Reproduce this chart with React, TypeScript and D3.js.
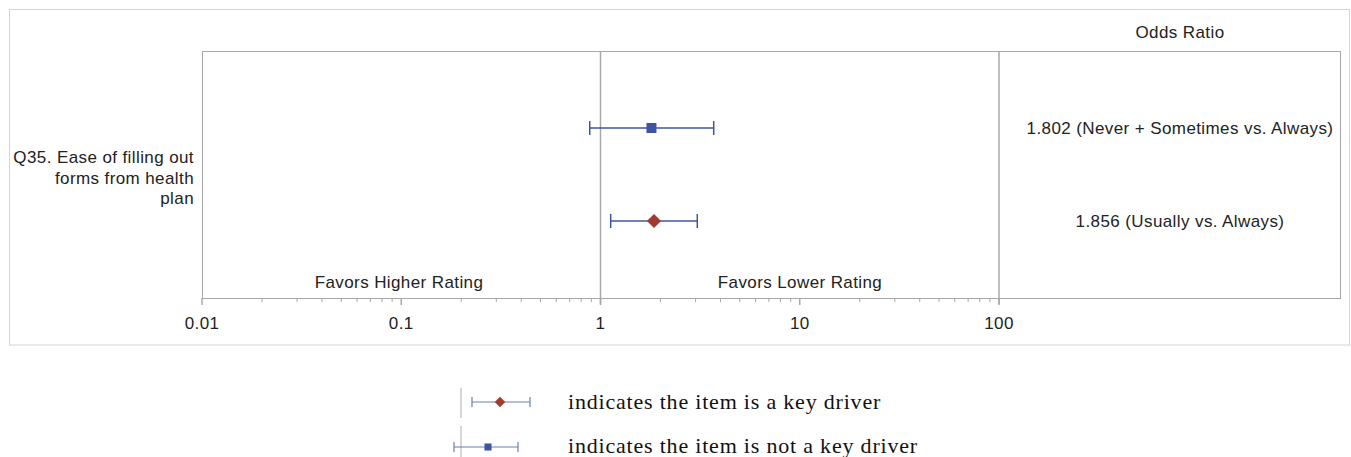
import React from "react";
import * as d3 from "d3";

const rows = ["1.802 (Never + Sometimes vs. Always)", "1.856 (Usually vs. Always)"];
const estimates = [1.802, 1.856];
const lowers = [0.883, 1.125];
const uppers = [3.70, 3.06];
const keyDriver = [false, true];
const tickValues = [0.01, 0.1, 1, 10, 100];
const tickLabels = ["0.01", "0.1", "1", "10", "100"];
const itemLabel = ["Q35. Ease of filling out", "forms from health", "plan"];
const favorLabels = ["Favors Higher Rating", "Favors Lower Rating"];
const refLines = [1, 100];

const BLUE = "#3F54A0";
const RED = "#A33A2E";
const GRID = "#A8A8A8";
const FONT = "'Liberation Sans', Arial, sans-serif";
const SERIF = "'Liberation Serif', 'Times New Roman', serif";
const FS = 17;
const LS = 0.4;

export default function App() {
  const W = 1351, H = 457;
  const frame = { left: 202, right: 1340, top: 51, bottom: 298 };
  const x = d3.scaleLog().domain([0.01, 100]).range([202, 999]);
  const y = d3.scalePoint<number>().domain([0, 1]).range([128, 221]);

  const minor: number[] = [];
  for (let d = 0.01; d < 100; d *= 10) {
    for (let k = 2; k <= 9; k++) minor.push(d * k);
  }

  const diamond = d3.symbol().type(d3.symbolSquare).size(100)();
  const square = d3.symbol().type(d3.symbolSquare).size(100)();
  const capH = 7;
  const colTextX = 1180;

  const textProps = { fontFamily: FONT, fontSize: FS, fill: "#222", letterSpacing: LS };

  return (
    <svg width={W} height={H} style={{ position: "absolute", left: 0, top: 0, background: "#fff" }}>
      <rect x={9.5} y={9.5} width={1340} height={335.5} fill="none" stroke="#D4D4D4" strokeWidth={1} />
      <rect x={frame.left + 0.5} y={frame.top + 0.5} width={frame.right - frame.left} height={frame.bottom - frame.top} fill="none" stroke={GRID} strokeWidth={1} />
      {refLines.map((v, i) => (
        <line key={i} x1={x(v)} x2={x(v)} y1={frame.top} y2={frame.bottom + 6} stroke={GRID} strokeWidth={1.5} />
      ))}
      {tickValues.map((v, i) => (
        <g key={i}>
          <line x1={x(v)} x2={x(v)} y1={frame.bottom} y2={frame.bottom + 7} stroke={GRID} strokeWidth={1.5} />
          <text x={x(v)} y={329} textAnchor="middle" {...textProps}>{tickLabels[i]}</text>
        </g>
      ))}
      {minor.map((v, i) => (
        <line key={"m" + i} x1={x(v)} x2={x(v)} y1={frame.bottom} y2={frame.bottom + 4} stroke={GRID} strokeWidth={1} />
      ))}
      {favorLabels.map((t, i) => (
        <text key={i} x={i === 0 ? 399 : 800} y={288} textAnchor="middle" {...textProps}>{t}</text>
      ))}
      <text x={colTextX} y={38} textAnchor="middle" {...textProps}>Odds Ratio</text>
      {itemLabel.map((t, i) => (
        <text key={i} x={194} y={163 + i * 20.5} textAnchor="end" {...textProps}>{t}</text>
      ))}
      {rows.map((t, i) => {
        const yy = y(i)!;
        return (
          <g key={i}>
            <line x1={x(lowers[i])} x2={x(uppers[i])} y1={yy} y2={yy} stroke={BLUE} strokeWidth={1.5} />
            <line x1={x(lowers[i])} x2={x(lowers[i])} y1={yy - capH} y2={yy + capH} stroke={BLUE} strokeWidth={1.5} />
            <line x1={x(uppers[i])} x2={x(uppers[i])} y1={yy - capH} y2={yy + capH} stroke={BLUE} strokeWidth={1.5} />
            <path
              d={keyDriver[i] ? diamond! : square!}
              transform={`translate(${x(estimates[i])},${yy})${keyDriver[i] ? " rotate(45)" : ""}`}
              fill={keyDriver[i] ? RED : BLUE}
            />
            <text x={colTextX} y={yy + 6} textAnchor="middle" {...textProps}>{t}</text>
          </g>
        );
      })}
      <g>
        <line x1={461} x2={461} y1={388} y2={418} stroke="#C8C8C8" strokeWidth={1.5} />
        <line x1={472} x2={530} y1={402} y2={402} stroke="#6A7DB8" strokeWidth={1.2} />
        <line x1={472} x2={472} y1={397} y2={407} stroke="#6A7DB8" strokeWidth={1.2} />
        <line x1={530} x2={530} y1={397} y2={407} stroke="#6A7DB8" strokeWidth={1.2} />
        <path d={d3.symbol().type(d3.symbolSquare).size(55)()!} transform="translate(500,402) rotate(45)" fill={RED} />
        <text x={568} y={409} fontFamily={SERIF} fontSize={22} letterSpacing={0.8} fill="#111">indicates the item is a key driver</text>

        <line x1={461} x2={461} y1={426} y2={457} stroke="#C8C8C8" strokeWidth={1.5} />
        <line x1={454} x2={518} y1={447} y2={447} stroke="#6A7DB8" strokeWidth={1.2} />
        <line x1={454} x2={454} y1={442} y2={452} stroke="#6A7DB8" strokeWidth={1.2} />
        <line x1={518} x2={518} y1={442} y2={452} stroke="#6A7DB8" strokeWidth={1.2} />
        <path d={d3.symbol().type(d3.symbolSquare).size(50)()!} transform="translate(488,447)" fill={BLUE} />
        <text x={568} y={453} fontFamily={SERIF} fontSize={22} letterSpacing={0.8} fill="#111">indicates the item is not a key driver</text>
      </g>
    </svg>
  );
}
